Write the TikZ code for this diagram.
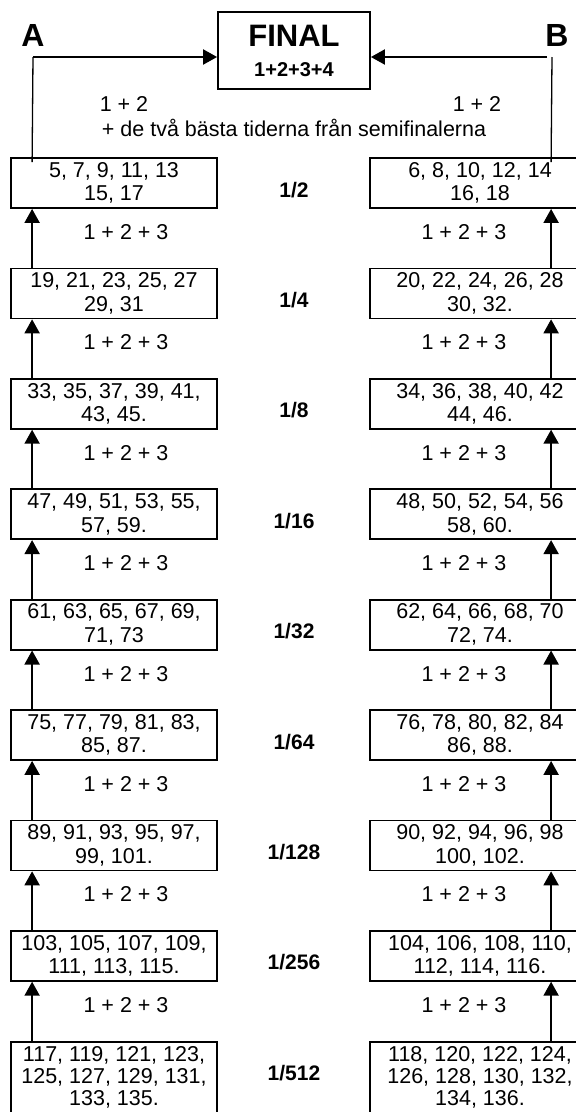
\documentclass[tikz,border=0pt]{standalone}
\usepackage{fontspec}
\setmainfont{Liberation Sans}
\usetikzlibrary{arrows.meta}
\begin{document}
\begin{tikzpicture}[x=1pt,y=-1pt,
  cell/.style={draw,line width=1.8pt,minimum width=206pt,minimum height=50pt,inner xsep=2pt,inner ysep=0pt,align=center,font=\fontsize{21.5}{23.5}\selectfont},
  rcell/.style={cell,minimum width=220pt},
  lastcell/.style={anchor=north,minimum height=0pt,inner ysep=4pt,text depth=14pt,font=\fontsize{21.5}{22}\selectfont},
  lab/.style={font=\fontsize{21.5}{23}\selectfont,anchor=base,inner sep=0pt},
  stage/.style={font=\bfseries\fontsize{21}{23}\selectfont,anchor=base,inner sep=0pt},
  big/.style={font=\bfseries\fontsize{32}{34}\selectfont,anchor=base,inner sep=0pt},
  arr/.style={-{Triangle[length=14pt,width=15pt]},line width=2pt},
  thinline/.style={line width=1.3pt}]
\useasboundingbox (0,0) rectangle (576,1112);
\clip (0,0) rectangle (576,1112);

% final
\node[draw,line width=1.8pt,minimum width=152pt,minimum height=77pt,inner sep=0pt,align=center,
      font=\bfseries\fontsize{20}{30}\selectfont] (fin) at (294,50.5)
      {{\fontsize{31}{30}\selectfont FINAL}\\1+2+3+4};
\node[big] (A) at (33,46) {A};
\node[big] (B) at (557,46) {B};

\node[lab] (t12l) at (124,111) {1 + 2};
\node[lab] (t12r) at (477,111) {1 + 2};
\node[lab] (semi) at (294,136) {+ de två bästa tiderna från semifinalerna};

% left column
\node[cell] (L0) at (114,183) {5, 7, 9, 11, 13\\15, 17};
\node[cell] (L1) at (114,293.4) {19, 21, 23, 25, 27\\29, 31};
\node[cell] (L2) at (114,403.8) {33, 35, 37, 39, 41,\\43, 45.};
\node[cell] (L3) at (114,514.2) {47, 49, 51, 53, 55,\\57, 59.};
\node[cell] (L4) at (114,624.6) {61, 63, 65, 67, 69,\\71, 73};
\node[cell] (L5) at (114,735) {75, 77, 79, 81, 83,\\85, 87.};
\node[cell] (L6) at (114,845.4) {89, 91, 93, 95, 97,\\99, 101.};
\node[cell] (L7) at (114,955.8) {103, 105, 107, 109,\\111, 113, 115.};
\node[cell,lastcell] (L8) at (114,1041.2) {117, 119, 121, 123,\\125, 127, 129, 131,\\133, 135.};

% right column
\node[rcell] (R0) at (480,183) {6, 8, 10, 12, 14\\16, 18};
\node[rcell] (R1) at (480,293.4) {20, 22, 24, 26, 28\\30, 32.};
\node[rcell] (R2) at (480,403.8) {34, 36, 38, 40, 42\\44, 46.};
\node[rcell] (R3) at (480,514.2) {48, 50, 52, 54, 56\\58, 60.};
\node[rcell] (R4) at (480,624.6) {62, 64, 66, 68, 70\\72, 74.};
\node[rcell] (R5) at (480,735) {76, 78, 80, 82, 84\\86, 88.};
\node[rcell] (R6) at (480,845.4) {90, 92, 94, 96, 98\\100, 102.};
\node[rcell] (R7) at (480,955.8) {104, 106, 108, 110,\\112, 114, 116.};
\node[rcell,lastcell] (R8) at (480,1041.2) {118, 120, 122, 124,\\126, 128, 130, 132,\\134, 136.};

% stage labels
\node[stage] (s0) at (294,197) {1/2};
\node[stage] (s1) at (294,307.4) {1/4};
\node[stage] (s2) at (294,417.8) {1/8};
\node[stage] (s3) at (294,528.2) {1/16};
\node[stage] (s4) at (294,638.6) {1/32};
\node[stage] (s5) at (294,749) {1/64};
\node[stage] (s6) at (294,859.4) {1/128};
\node[stage] (s7) at (294,969.8) {1/256};
\node[stage] (s8) at (294,1080.2) {1/512};

% qualification labels and arrows
\foreach \i [evaluate=\i as \j using int(\i+1)] in {0,...,7} {
  \node[lab] (ql\i) at (126,{239.5+110.4*\i}) {1 + 2 + 3};
  \node[lab] (qr\i) at (464,{239.5+110.4*\i}) {1 + 2 + 3};
  \draw[arr] ([xshift=22pt]L\j.north west) -- ([xshift=22pt]L\i.south west);
  \draw[arr] ([xshift=182pt]R\j.north west) -- ([xshift=182pt]R\i.south west);
}

% to final
\coordinate (aTop) at (33,57);
\coordinate (bTop) at (552,57);
\draw[thinline] ([xshift=22pt,yshift=-5pt]L0.north west) -- (aTop);
\draw[arr] (aTop) -- (aTop -| fin.west);
\draw[thinline] ([xshift=182pt,yshift=-5pt]R0.north west) -- (bTop);
\draw[arr] ([xshift=-5pt]bTop) -- (bTop -| fin.east);
\end{tikzpicture}
\end{document}
